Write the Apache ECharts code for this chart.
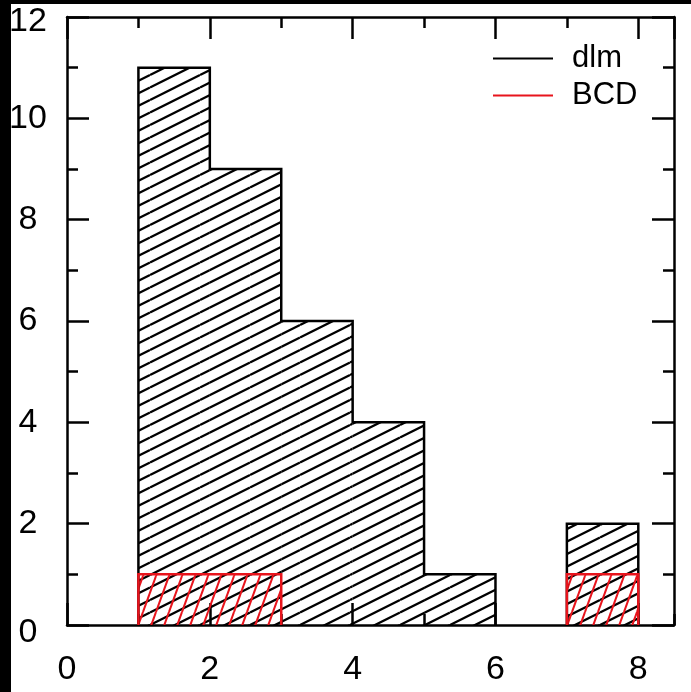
<!DOCTYPE html>
<html>
<head>
<meta charset="utf-8">
<script src="https://cdn.jsdelivr.net/npm/echarts@6/dist/echarts.min.js"></script>
<style>html,body{margin:0;padding:0;background:#fff}#c{width:691px;height:692px}</style>
</head>
<body>
<div id="c"></div>
<script>
// ---- data ----
const binEdges = [1, 2, 3, 4, 5, 6, 7, 8];
const dlmCounts = [11, 9, 6, 4, 1, 0, 2];
const bcdCounts = [1, 1, 0, 0, 0, 0, 1];
const seriesNames = ['dlm', 'BCD'];
const xTicks = [0, 2, 4, 6, 8];
const yTicks = [0, 2, 4, 6, 8, 10, 12];

const FONT = 'Liberation Sans, Arial, Helvetica, sans-serif';

// hatch patterns
function makeHatch(w, h, color, lw, segs) {
  const c = document.createElement('canvas');
  c.width = w; c.height = h;
  const ctx = c.getContext('2d');
  ctx.strokeStyle = color; ctx.lineWidth = lw; ctx.lineCap = 'butt';
  segs.forEach(s => { ctx.beginPath(); ctx.moveTo(s[0], s[1]); ctx.lineTo(s[2], s[3]); ctx.stroke(); });
  return c;
}
const blackSegs = [];
for (let k = -4; k <= 4; k++) blackSegs.push([0, 25 + k * 12.5, 50, k * 12.5]);
const blackHatch = makeHatch(50, 25, '#000', 2.3, blackSegs);
const redSegs = [];
for (let k = -2; k <= 2; k++) redSegs.push([13 * k, 36, 13 + 13 * k, 0]);
const redHatch = makeHatch(13, 36, '#e8141c', 2.0, redSegs);

function fillSeries(name, counts, pattern, z) {
  return {
    type: 'custom', name: name + '_fill', xAxisIndex: 0, yAxisIndex: 0, z: z, silent: true,
    data: counts.map((c, i) => [binEdges[i], binEdges[i + 1], c]),
    encode: { x: [0, 1], y: 2 },
    renderItem: function (params, api) {
      const x0 = api.value(0), x1 = api.value(1), c = api.value(2);
      if (!c) return null;
      const p0 = api.coord([x0, c]), p1 = api.coord([x1, 0]);
      return { type: 'rect', shape: { x: p0[0], y: p0[1], width: p1[0] - p0[0], height: p1[1] - p0[1] },
        style: { fill: { image: pattern, repeat: 'repeat' } } };
    }
  };
}
function outlinePts(counts) {
  const pts = []; let inRun = false;
  counts.forEach((c, i) => {
    if (c > 0) {
      if (!inRun) { pts.push([binEdges[i], 0]); inRun = true; }
      pts.push([binEdges[i], c], [binEdges[i + 1], c]);
    } else if (inRun) {
      pts.push([binEdges[i], 0]); pts.push([binEdges[i], '-']); inRun = false;
    }
  });
  if (inRun) pts.push([binEdges[counts.length], 0]);
  return pts;
}
function outlineSeries(name, counts, color, z) {
  return {
    type: 'line', name: name, xAxisIndex: 0, yAxisIndex: 0, z: z, silent: true,
    data: outlinePts(counts), symbol: 'none', showSymbol: false, connectNulls: false,
    lineStyle: { color: color, width: 2.5, join: 'miter' }, itemStyle: { color: color },
    animation: false
  };
}

const axisLineStyle = { color: '#000', width: 2.5 };
function xAxisDef(pos, interval, len, labels, line) {
  return {
    type: 'value', position: pos, min: 0, max: 8.5, interval: interval,
    axisLine: { show: line, onZero: false, lineStyle: axisLineStyle },
    axisTick: { show: true, inside: true, length: len, lineStyle: axisLineStyle },
    axisLabel: labels ? { show: true, color: '#000', fontSize: 34, fontFamily: FONT, margin: 28, showMaxLabel: false,
      formatter: v => xTicks.indexOf(v) >= 0 ? String(v) : '' } : { show: false },
    splitLine: { show: false }
  };
}
function yAxisDef(pos, labels) {
  return {
    type: 'value', position: pos, min: 0, max: 12, interval: 2,
    axisLine: { show: true, onZero: false, lineStyle: axisLineStyle },
    axisTick: { show: true, inside: true, length: 22, lineStyle: axisLineStyle },
    minorTick: { show: true, splitNumber: 2, length: 11, lineStyle: axisLineStyle },
    axisLabel: labels ? {
      show: true, color: '#000', fontSize: 34, fontFamily: FONT, margin: 39, align: 'center',
      formatter: v => yTicks.indexOf(v) < 0 ? '' : (v === 0 ? '{lo|0}' : (v === 12 ? '{hi|12}' : String(v))),
      rich: {
        lo: { fontSize: 34, fontFamily: FONT, color: '#000', padding: [16, 0, 0, 0] },
        hi: { fontSize: 34, fontFamily: FONT, color: '#000', padding: [10, 0, 0, 0] }
      }
    } : { show: false },
    splitLine: { show: false }
  };
}

const chart = echarts.init(document.getElementById('c'), null, { renderer: 'canvas' });
chart.setOption({
  animation: false,
  backgroundColor: '#fff',
  grid: { left: 67, right: 17, top: 17, bottom: 67, show: false },
  xAxis: [
    xAxisDef('bottom', 2, 22, true, true),
    xAxisDef('bottom', 1, 11, false, false),
    xAxisDef('top', 2, 22, false, true),
    xAxisDef('top', 1, 11, false, false)
  ],
  yAxis: [yAxisDef('left', true), yAxisDef('right', false)],
  legend: {
    data: seriesNames.map(n => ({ name: n, icon: 'rect' })), orient: 'vertical', left: 493, top: 43, padding: 0,
    itemWidth: 60, itemHeight: 2, itemGap: 6,
    textStyle: { color: '#000', fontSize: 31, fontFamily: FONT, lineHeight: 31, padding: [0, 0, 0, 14] },
    selectedMode: false
  },
  series: [
    fillSeries(seriesNames[0], dlmCounts, blackHatch, 2),
    fillSeries(seriesNames[1], bcdCounts, redHatch, 3),
    outlineSeries(seriesNames[0], dlmCounts, '#000', 4),
    outlineSeries(seriesNames[1], bcdCounts, '#e8141c', 5)
  ],
  graphic: [
    { type: 'rect', shape: { x: 0, y: 0, width: 11, height: 692 }, style: { fill: '#000' }, z: 100 },
    { type: 'rect', shape: { x: 0, y: 0, width: 691, height: 4 }, style: { fill: '#000' }, z: 100 }
  ]
});
</script>
</body>
</html>
